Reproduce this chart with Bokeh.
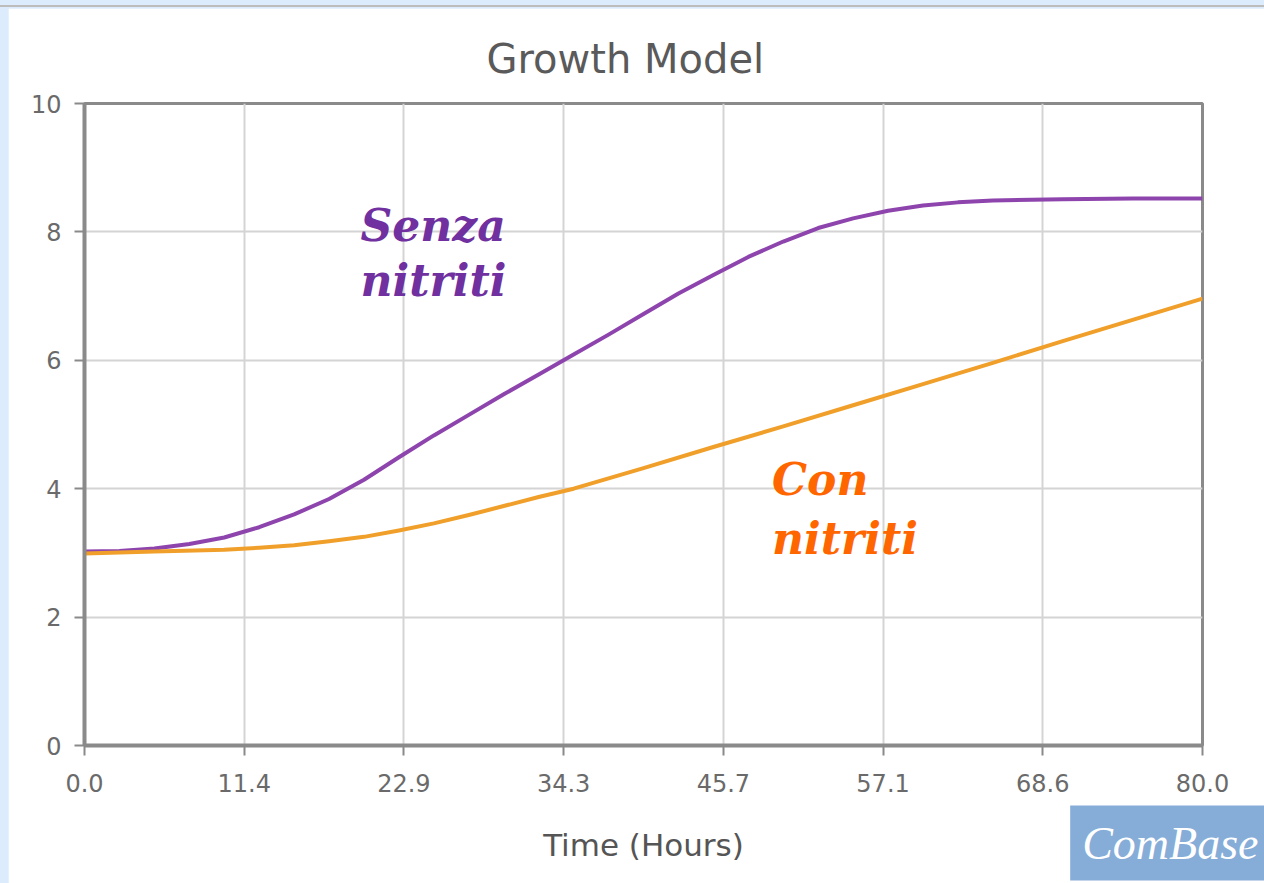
from bokeh.plotting import figure
from bokeh.models import FixedTicker, Range1d, ColumnDataSource, Title
from bokeh.core.properties import value
from bokeh.embed import file_html
from bokeh.resources import INLINE

# ---- data ----
time_senza = [0, 2.5, 5, 7.5, 10, 12.5, 15, 17.5, 20, 22.5, 25, 27.5, 30, 32.5, 35, 37.5, 40,
              42.5, 45, 47.5, 50, 52.5, 55, 57.5, 60, 62.5, 65, 70, 75, 80]
senza_nitriti = [3.02, 3.03, 3.07, 3.14, 3.24, 3.40, 3.60, 3.84, 4.14, 4.49, 4.83, 5.15, 5.47,
                 5.78, 6.09, 6.40, 6.72, 7.04, 7.33, 7.61, 7.85, 8.06, 8.21, 8.33, 8.41, 8.46,
                 8.49, 8.51, 8.52, 8.52]
time_con = [0, 5, 10, 12.5, 15, 17.5, 20, 22.5, 25, 27.5, 30, 32.5, 35, 37.5, 40, 45, 50, 55,
            60, 65, 70, 75, 80]
con_nitriti = [2.99, 3.02, 3.05, 3.08, 3.12, 3.18, 3.25, 3.35, 3.46, 3.59, 3.73, 3.87, 4.00,
               4.16, 4.32, 4.65, 4.97, 5.30, 5.63, 5.96, 6.30, 6.63, 6.96]

x_tick_labels = ["0.0", "11.4", "22.9", "34.3", "45.7", "57.1", "68.6", "80.0"]
y_ticks = [0, 2, 4, 6, 8, 10]

# annotation texts (label positions in data units)
ann_text = ["Senza", "nitriti", "Con", "nitriti"]
ann_x = [19.75, 19.75, 49.2, 49.2]
ann_y = [8.10, 7.24, 4.14, 3.22]
ann_color = ["#7030a0", "#7030a0", "#ff6600", "#ff6600"]

x_max = 80.0
x_ticks = [x_max * i / (len(x_tick_labels) - 1) for i in range(len(x_tick_labels))]

p = figure(width=1256, height=875, output_backend="svg", toolbar_location=None,
           x_range=Range1d(0, x_max), y_range=Range1d(0, 10),
           min_border_left=76, min_border_right=62, min_border_top=95, min_border_bottom=138,
           background_fill_color="white", border_fill_color="white")

p.title.text = "Growth Model"
p.title.align = "left"
p.title.offset = 402
p.title.text_font = "DejaVu Sans"
p.title.text_font_size = "40px"
p.title.text_font_style = "normal"
p.title.text_color = "#5a5a5a"
p.title.standoff = 44

p.outline_line_color = "#8a8a8a"
p.outline_line_width = 3
p.outline_line_alpha = 1.0

p.xaxis.ticker = FixedTicker(ticks=x_ticks)
p.xaxis.major_label_overrides = {t: l for t, l in zip(x_ticks, x_tick_labels)}
p.yaxis.ticker = FixedTicker(ticks=y_ticks)

for ax in (p.xaxis, p.yaxis):
    ax.axis_line_color = "#8a8a8a"
    ax.axis_line_width = 4
    ax.major_tick_line_color = "#8a8a8a"
    ax.major_tick_line_width = 2
    ax.major_tick_out = 10
    ax.major_tick_in = 0
    ax.minor_tick_line_color = None
    ax.major_label_text_font = "DejaVu Sans"
    ax.major_label_text_font_size = "24px"
    ax.major_label_text_color = "#6a6a6a"

p.xaxis.major_label_standoff = 18
p.yaxis.major_label_standoff = 13
p.xaxis.axis_label = "Time (Hours)"
p.xaxis.axis_label_text_font = "DejaVu Sans"
p.xaxis.axis_label_text_font_size = "31px"
p.xaxis.axis_label_text_font_style = "normal"
p.xaxis.axis_label_text_color = "#555555"
p.xaxis.axis_label_standoff = 32

p.xgrid.grid_line_color = "#d4d4d4"
p.ygrid.grid_line_color = "#d4d4d4"
p.xgrid.grid_line_width = 2
p.ygrid.grid_line_width = 2

p.line(time_senza, senza_nitriti, line_color="#8e44ad", line_width=4, line_join="round")
p.line(time_con, con_nitriti, line_color="#f0a02a", line_width=4, line_join="round")

ann = ColumnDataSource(dict(x=ann_x, y=ann_y, text=ann_text, color=ann_color))
p.text(x="x", y="y", text="text", text_color="color", source=ann,
       text_font=value("DejaVu Serif"), text_font_size="44px",
       text_font_style="bold italic", text_baseline="alphabetic", text_align="left")

# ComBase logo: a title in the bottom panel, pulled up into the axis area
logo = Title(text="ComBase", align="right", vertical_align="top", offset=-68,
             standoff=-120, text_font="Liberation Serif", text_font_size="46px",
             text_font_style="italic", text_color="white", padding=12,
             background_fill_color="#86acd8", background_fill_alpha=1.0)
p.add_layout(logo, "below")

html = file_html(p, INLINE)
html = html.replace("<head>",
                    "<head><style>html,body{background:#dcecfc !important;}"
                    "html{background:linear-gradient(#dcecfc 0 5px, #bdbdbd 5px 7px, "
                    "#dcecfc 7px) !important;}"
                    "body{background:transparent !important;"
                    "padding:8px 0 0 8px !important;margin:0 !important;}</style>", 1)
open("out.html", "w").write(html)
